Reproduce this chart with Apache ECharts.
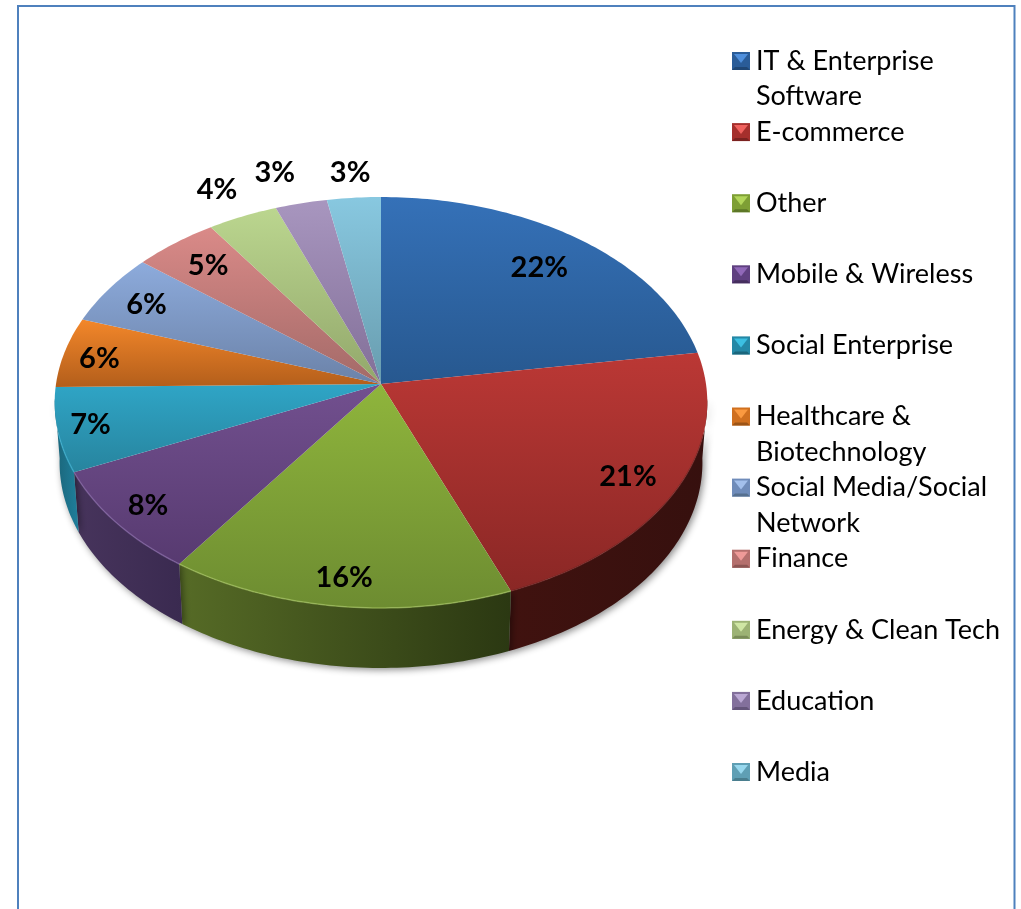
<!DOCTYPE html>
<html>
<head>
<meta charset="utf-8" />
<title>Sector share</title>
<script src="https://cdn.jsdelivr.net/npm/echarts@6/dist/echarts.min.js"></script>
<style>
  html, body { margin: 0; padding: 0; background: #fff; }
  #main { width: 1021px; height: 909px; }
</style>
</head>
<body>
<div id="main"></div>
<script>
var categories = ['IT & Enterprise\nSoftware', 'E-commerce', 'Other', 'Mobile & Wireless', 'Social Enterprise',
  'Healthcare &\nBiotechnology', 'Social Media/Social\nNetwork', 'Finance', 'Energy & Clean Tech', 'Education', 'Media'];
var shares = [22.49, 21.49, 15.7, 8.4, 6.6, 5.5, 5.6, 4.6, 3.8, 2.8, 2.9];

// top face gradient [upper, lower], side gradient [left, right], rim highlight
var topColors = [['#3571b8', '#27588f'], ['#bb3835', '#8a2725'], ['#8fb53c', '#6d8c31'], ['#72508f', '#573a70'],
  ['#2fa5c6', '#27849e'], ['#f3872a', '#b35e1b'], ['#8dabdc', '#6b82a8'], ['#da8a88', '#a36a68'],
  ['#bbd68f', '#92a76b'], ['#a896bf', '#826f98'], ['#88c8e0', '#689cae']];
var sideColors = [['#1d3f68', '#1d3f68'], ['#40120f', '#36100e'], ['#566b26', '#2b3812'], ['#47345c', '#3a2a50'],
  ['#1b6478', '#1f7f9c'], ['#8a4a15', '#8a4a15'], ['#5d7197', '#5d7197'], ['#8f5a58', '#8f5a58'],
  ['#7d8f5c', '#7d8f5c'], ['#6f5f83', '#6f5f83'], ['#5a8796', '#5a8796']];
var rimColors = ['#3571b8', '#6a2220', '#a8c862', '#8a6bab', '#3fb7d8', '#f3872a', '#8dabdc', '#da8a88', '#bbd68f', '#a896bf', '#88c8e0'];
var iconColors = [['#4f8fdc', '#2a5c98', '#1f4674'], ['#f0625e', '#a52f2c', '#7a2220'], ['#b2d65a', '#7e9f35', '#5d7727'],
  ['#9068b8', '#5f4080', '#452e5e'], ['#3cc0e2', '#2488a6', '#1a667c'], ['#fb9a40', '#d0701f', '#9c5416'],
  ['#a3c0ec', '#6f8cba', '#56708f'], ['#ee9a98', '#b46f6d', '#8c5553'], ['#cfe6a4', '#9cb274', '#7a8c58'],
  ['#bba8d4', '#83709c', '#64557a'], ['#98d8ee', '#5f9fb4', '#4a7e8e']];
// where each percent label sits: radius on the disc and a small turn in degrees
var labelRadius = [0.79, 0.85, 0.88, 0.885, 0.9, 0.885, 0.85, 0.83, 1.18, 1.2, 1.15];
var labelTurn = [0, 1, 0, 0, 0, -1, -0.7, 0, -0.5, -2, 0];

// the tilted disc: apex sits above the ellipse centre because of the perspective
var apexX = 381, apexY = 384, scaleX = 325, scaleY = 203.8, tilt = -0.09, depth = 60, bottomShrink = 0.985;
var font = 'Lato, Carlito, "Noto Sans", sans-serif';

var total = shares.reduce(function (a, b) { return a + b; }, 0);

function project(deg, r) {
  var t = deg * Math.PI / 180;
  var u = Math.sin(t) * r, v = -Math.cos(t) * r;
  var w = 1 + tilt * v;
  return [apexX + scaleX * u / w, apexY + scaleY * v / w];
}

function arc(from, to) {
  var pts = [];
  var n = Math.max(2, Math.ceil(to - from));
  for (var i = 0; i <= n; i++) pts.push(project(from + (to - from) * i / n, 1));
  return pts;
}

function grad(x, y, x2, y2, c) {
  return new echarts.graphic.LinearGradient(x, y, x2, y2, [{ offset: 0, color: c[0] }, { offset: 1, color: c[1] }]);
}

function renderSlice(params, api) {
  var i = params.dataIndex;
  var before = 0;
  for (var k = 0; k < i; k++) before += shares[k];
  var start = before / total * 360;
  var end = start + api.value(0) / total * 360;
  var children = [];

  // visible wall only on the front part of the disc
  var a = Math.max(start, 94), b = Math.min(end, 266);
  if (b > a) {
    var rim = arc(a, b);
    var lower = rim.map(function (p) {
      return [apexX + (p[0] - apexX) * bottomShrink, p[1] + depth];
    }).reverse();
    children.push({
      type: 'polygon', z2: 1,
      shape: { points: rim.concat(lower) },
      style: { fill: grad(0, 0, 1, 0, sideColors[i]), shadowBlur: 7, shadowColor: 'rgba(0,0,0,0.45)', shadowOffsetX: 2, shadowOffsetY: 2 }
    });
  }

  children.push({
    type: 'polygon', z2: 5,
    shape: { points: [[apexX, apexY]].concat(arc(start, end)) },
    style: { fill: grad(0, 0, 0, 1, topColors[i]) }
  });

  var ra = Math.max(start, 104), rb = Math.min(end, 256);
  if (rb > ra) {
    children.push({
      type: 'polyline', z2: 6,
      shape: { points: arc(ra, rb) },
      style: { fill: null, stroke: rimColors[i], lineWidth: 1.5, opacity: 0.6 }
    });
  }

  var mid = (start + end) / 2 + labelTurn[i];
  var pos = project(mid, labelRadius[i]);
  children.push({
    type: 'text', z2: 10,
    style: {
      x: pos[0], y: pos[1], text: Math.round(api.value(0)) + '%',
      font: 'bold 29px ' + font, fill: '#000', align: 'center', verticalAlign: 'middle'
    }
  });
  return { type: 'group', children: children };
}

// legend rows keep a fixed pitch, two-line names run into the free row below
function legendElements() {
  var out = [];
  var left = 732, size = 18, textX = 756, firstRow = 61, rowPitch = 71.1, linePitch = 35.5;
  categories.forEach(function (name, i) {
    var cy = firstRow + rowPitch * i, y0 = cy - size / 2, x1 = left + size, y1 = y0 + size, c = iconColors[i];
    var cx = left + size / 2, my = cy + 2;
    out.push({ type: 'rect', shape: { x: left, y: y0, width: size, height: size }, style: { fill: c[1] } });
    out.push({ type: 'polygon', shape: { points: [[left + 2, y0 + 2], [x1 - 2, y0 + 2], [cx, my]] }, style: { fill: c[0] } });
    out.push({ type: 'polygon', shape: { points: [[left, y1], [x1, y1], [x1 - 3, y1 - 3], [left + 3, y1 - 3]] }, style: { fill: c[2] } });
    name.split('\n').forEach(function (line, j) {
      out.push({
        type: 'text',
        style: { x: textX, y: cy + j * linePitch, text: line, font: '27px ' + font, fill: '#000', verticalAlign: 'middle' }
      });
    });
  });
  // page frame, open at the bottom
  out.push({
    type: 'polyline',
    shape: { points: [[18, 909], [18, 6], [1014.5, 6], [1014.5, 909]] },
    style: { fill: null, stroke: '#4f81bd', lineWidth: 2 }
  });
  return out;
}

var myChart = echarts.init(document.getElementById('main'));
myChart.setOption({
  animation: false,
  backgroundColor: '#fff',
  graphic: { elements: legendElements() },
  series: [{
    type: 'custom',
    coordinateSystem: 'none',
    silent: true,
    renderItem: renderSlice,
    data: shares.map(function (v, i) { return { name: categories[i], value: [v] }; })
  }]
});
</script>
</body>
</html>
